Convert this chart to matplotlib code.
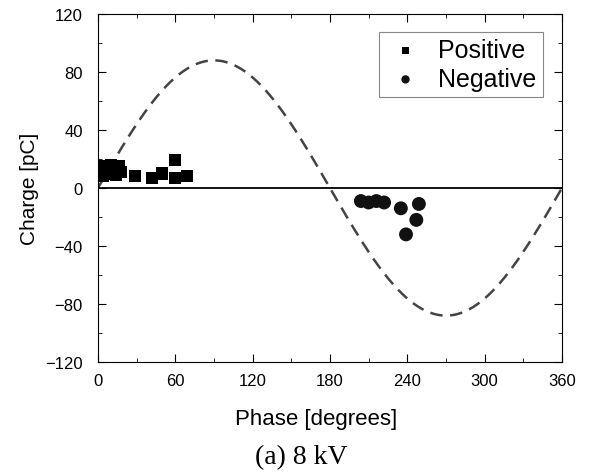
"""Charge vs phase scatter (8 kV) with the applied voltage drawn as a dashed sine."""

import numpy as np
import matplotlib
matplotlib.use("Agg")
import matplotlib.pyplot as plt
from matplotlib.ticker import MultipleLocator

plt.rcParams["font.family"] = ["Liberation Sans", "DejaVu Sans"]

# positive discharges (phase in degrees, charge in pC)
pos_phase = [3, 5, 8, 10, 13, 16, 4, 9, 14, 18, 29, 42, 50, 60, 60, 69]
pos_charge = [12, 15, 13, 16, 14, 15, 8, 10, 9, 11, 8, 7, 10, 19, 7, 8]

# negative discharges
neg_phase = [204, 210, 216, 222, 235, 249, 247, 239]
neg_charge = [-9, -10, -9, -10, -14, -11, -22, -32]

# reference voltage curve, scaled to the charge axis
wave_amp = 88
wave_phase = np.linspace(0, 360, 361)

fig = plt.figure(figsize=(5.9, 4.77), dpi=100)
ax = fig.add_axes([0.166, 0.239, 0.7865, 0.7296])

ax.plot(wave_phase, wave_amp * np.sin(np.radians(wave_phase)),
        ls=(0, (5, 3)), color="#444444", lw=1.8)
ax.axhline(0, color="black", lw=1.3)

ax.scatter(pos_phase, pos_charge, marker="s", s=75, color="black",
           edgecolors="none", label="Positive", zorder=3)
ax.scatter(neg_phase, neg_charge, marker="o", s=100, color="#111111",
           edgecolors="none", label="Negative", zorder=3)

ax.set_xlim(0, 360)
ax.set_ylim(-120, 120)
ax.xaxis.set_major_locator(MultipleLocator(60))
ax.xaxis.set_minor_locator(MultipleLocator(30))
ax.yaxis.set_major_locator(MultipleLocator(40))
ax.yaxis.set_minor_locator(MultipleLocator(20))
ax.tick_params(which="both", direction="in", top=True, right=True,
               labelsize=12)
ax.tick_params(axis="x", pad=8)
ax.tick_params(axis="y", pad=11)
ax.tick_params(which="major", length=6)
ax.tick_params(which="minor", length=3)

ax.set_xlabel("Phase [degrees]", fontsize=16)
ax.xaxis.set_label_coords(0.47, -0.132)
ax.set_ylabel("Charge [pC]", fontsize=15, labelpad=4)

leg = ax.legend(loc="upper right", bbox_to_anchor=(0.985, 0.985),
                fontsize=18, markerscale=0.6, handletextpad=0.5,
                handlelength=1.6, borderpad=0.25, labelspacing=0.2,
                fancybox=False, edgecolor="#888888", framealpha=1)
leg.get_frame().set_linewidth(0.8)

fig.text(0.51, 0.04, "(a) 8 kV", fontsize=20, family="Liberation Serif",
         ha="center", va="center")

fig.savefig("out.png", dpi=100)
plt.close(fig)
